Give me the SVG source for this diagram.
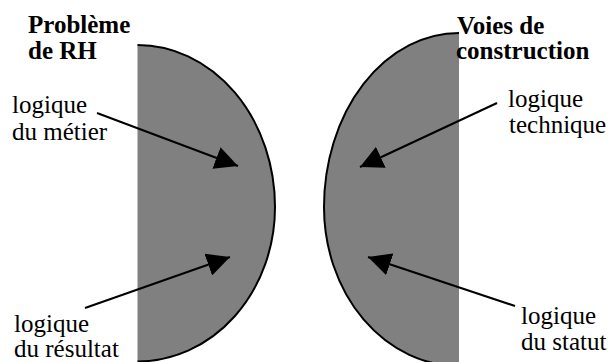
<svg xmlns="http://www.w3.org/2000/svg" width="608" height="362" viewBox="0 0 608 362">
<defs>
<marker id="head" markerUnits="userSpaceOnUse" viewBox="0 0 23 23" refX="23" refY="11.5" markerWidth="23" markerHeight="23" orient="auto">
<path d="M0,0 L23,11.5 L0,23 Z" fill="#000"/>
</marker>
</defs>
<rect width="608" height="362" fill="#fff"/>
<g id="left-shape">
<path d="M137.5,45 A137.5,162 0 0 1 275,207 A137.5,154.5 0 0 1 137.5,361.5 Z" fill="#808080"/>
<path d="M137.5,45 A137.5,162 0 0 1 275,207 A137.5,154.5 0 0 1 137.5,361.5" fill="none" stroke="#000" stroke-width="2"/>
</g>
<g id="right-shape">
<path d="M459,33 A135,174 0 0 0 324,207 A135,159 0 0 0 459,366 Z" fill="#808080"/>
<path d="M459,33 A135,174 0 0 0 324,207 A135,159 0 0 0 459,366" fill="none" stroke="#000" stroke-width="2"/>
</g>
<g id="title-left">
<text x="28" y="33" font-family="Times New Roman" font-size="25" font-weight="bold">Problème</text>
<text x="28" y="59" font-family="Times New Roman" font-size="25" font-weight="bold">de RH</text>
</g>
<g id="title-right">
<text x="457" y="34" font-family="Times New Roman" font-size="25" font-weight="bold">Voies de</text>
<text x="456" y="59" font-family="Times New Roman" font-size="25" font-weight="bold">construction</text>
</g>
<g id="label-metier">
<text x="12" y="113" font-family="Times New Roman" font-size="25">logique</text>
<text x="12" y="140" font-family="Times New Roman" font-size="25">du métier</text>
</g>
<g id="label-resultat">
<text x="14" y="332" font-family="Times New Roman" font-size="25">logique</text>
<text x="14" y="357" font-family="Times New Roman" font-size="25">du résultat</text>
</g>
<g id="label-technique">
<text x="508" y="107" font-family="Times New Roman" font-size="25">logique</text>
<text x="509" y="133" font-family="Times New Roman" font-size="25">technique</text>
</g>
<g id="label-statut">
<text x="521" y="324" font-family="Times New Roman" font-size="25">logique</text>
<text x="521" y="350" font-family="Times New Roman" font-size="25">du statut</text>
</g>
<g id="connectors" stroke="#000" stroke-width="2" fill="none">
<line x1="97" y1="113" x2="238" y2="166" marker-end="url(#head)"/>
<line x1="85" y1="308" x2="230" y2="257" marker-end="url(#head)"/>
<line x1="497" y1="103" x2="360" y2="167" marker-end="url(#head)"/>
<line x1="515" y1="306" x2="368" y2="257" marker-end="url(#head)"/>
</g>
</svg>
